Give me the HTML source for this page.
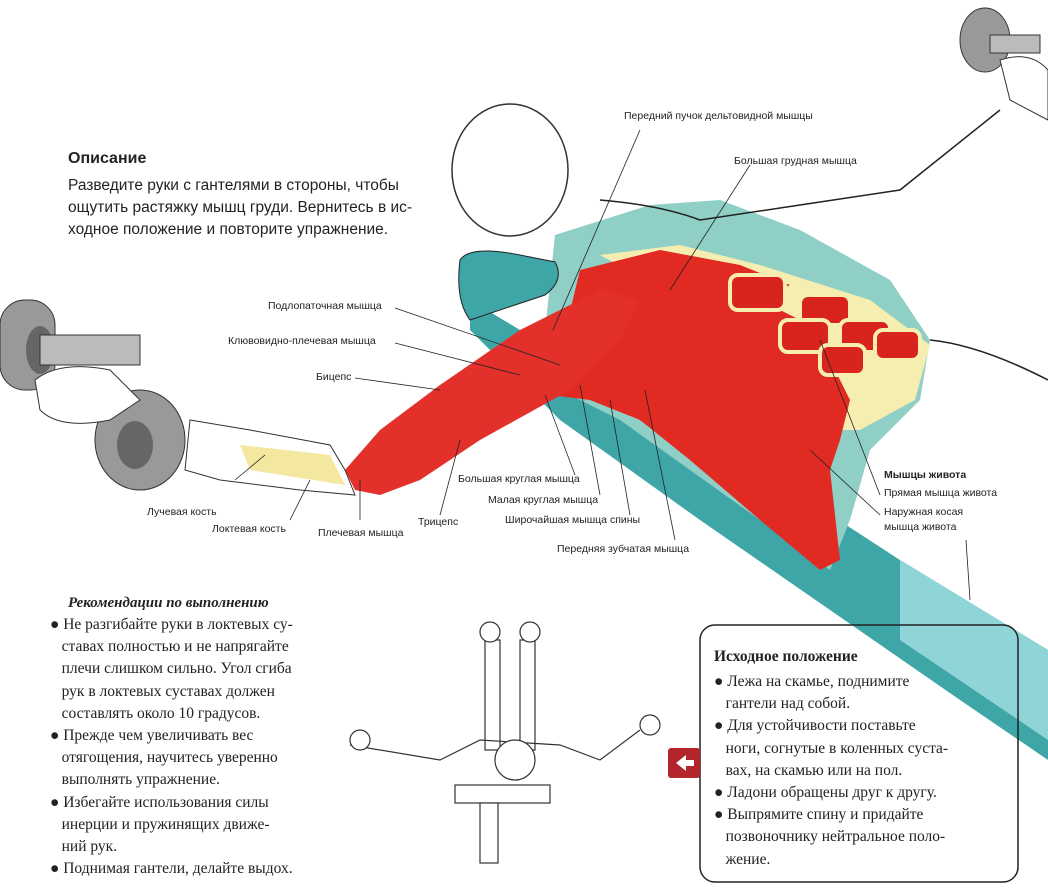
<!DOCTYPE html>
<html><head><meta charset="utf-8"><style>
body{margin:0;background:#fff;width:1048px;height:893px;overflow:hidden;position:relative;font-family:"Liberation Sans",sans-serif;}
.t{position:absolute;font-size:10.5px;color:#222;white-space:nowrap;}
.d{position:absolute;left:68px;font-size:15.5px;color:#222;line-height:22px;}
.s{position:absolute;font-family:"Liberation Serif",serif;font-size:15.5px;color:#222;line-height:22.2px;}
</style></head><body>
<svg width="1048" height="893" style="position:absolute;left:0;top:0">
<polygon points="470,300 520,330 700,430 900,560 1048,650 1048,760 960,700 700,520 560,420 470,330" fill="#3fa6a8"/>
<polygon points="555,235 650,205 720,200 800,230 890,280 930,340 920,400 870,450 850,520 830,570 760,520 620,420 540,380" fill="#8fcfc6"/>
<polygon points="900,560 1048,650 1048,740 900,640" fill="#8fd5d8"/>
<path d="M460,260 Q470,245 520,255 L555,262 Q565,280 545,295 L470,320 Q455,300 460,260Z" fill="#3fa6a8" stroke="#222"/>
<ellipse cx="510" cy="170" rx="58" ry="66" fill="#fff" stroke="#333" stroke-width="1.5"/>
<path d="M600,200 Q660,205 700,220 L800,205 L900,190 L1000,110" fill="none" stroke="#222" stroke-width="1.5"/>
<path d="M930,340 Q980,345 1048,380" fill="none" stroke="#222" stroke-width="1.5"/>
<polygon points="600,255 680,245 760,265 870,300 930,345 915,400 860,430 810,430 770,380 720,320" fill="#f6eeb0"/>
<polygon points="580,270 660,250 740,265 790,285 760,300 800,320 830,360 850,400 840,440 830,470 840,560 820,570 760,520 690,460 640,420 590,400 550,395" fill="#e02a22"/>
<g fill="#d8241c" stroke="#f6eeb0" stroke-width="4">
<rect x="730" y="275" width="55" height="35" rx="8"/><rect x="800" y="295" width="50" height="30" rx="8"/>
<rect x="780" y="320" width="50" height="32" rx="8"/><rect x="840" y="320" width="50" height="32" rx="8"/>
<rect x="820" y="345" width="45" height="30" rx="8"/><rect x="875" y="330" width="45" height="30" rx="8"/>
</g>
<polygon points="345,470 380,430 440,385 520,330 600,290 640,300 620,340 570,390 480,440 420,480 380,495 355,490" fill="#e3302a"/>
<polygon points="190,420 250,430 330,445 345,470 355,495 300,490 220,480 185,470" fill="#fff" stroke="#333"/>
<polygon points="240,445 330,455 345,485 250,470" fill="#f4e7a0"/>
<rect x="0" y="300" width="55" height="90" rx="25" fill="#999" stroke="#333"/>
<ellipse cx="40" cy="350" rx="14" ry="24" fill="#666"/>
<rect x="40" y="335" width="100" height="30" fill="#bbb" stroke="#333"/>
<ellipse cx="140" cy="440" rx="45" ry="50" fill="#999" stroke="#333"/>
<ellipse cx="135" cy="445" rx="18" ry="24" fill="#666"/>
<path d="M35,380 Q60,360 110,370 L140,400 L110,420 Q60,430 40,410Z" fill="#fff" stroke="#333"/>
<ellipse cx="985" cy="40" rx="25" ry="32" fill="#999" stroke="#333"/>
<rect x="990" y="35" width="50" height="18" fill="#bbb" stroke="#333"/>
<path d="M1000,60 Q1030,50 1048,70 L1048,120 L1010,100Z" fill="#fff" stroke="#333"/>
<g stroke="#222" stroke-width="0.8">
<line x1="640" y1="130" x2="553" y2="330"/><line x1="750" y1="165" x2="670" y2="290"/>
<line x1="395" y1="308" x2="560" y2="365"/><line x1="395" y1="343" x2="520" y2="375"/>
<line x1="355" y1="378" x2="440" y2="390"/><line x1="235" y1="480" x2="265" y2="455"/>
<line x1="290" y1="520" x2="310" y2="480"/><line x1="360" y1="520" x2="360" y2="480"/>
<line x1="440" y1="515" x2="460" y2="440"/><line x1="575" y1="475" x2="545" y2="395"/>
<line x1="600" y1="495" x2="580" y2="385"/><line x1="630" y1="515" x2="610" y2="400"/>
<line x1="675" y1="540" x2="645" y2="390"/><line x1="880" y1="495" x2="820" y2="340"/>
<line x1="880" y1="515" x2="810" y2="450"/>
<line x1="966" y1="540" x2="970" y2="600"/>
</g>
<g stroke="#333" fill="#fff" stroke-width="1.2">
<rect x="485" y="640" width="15" height="110"/><rect x="520" y="640" width="15" height="110"/>
<circle cx="490" cy="632" r="10"/><circle cx="530" cy="632" r="10"/>
<path d="M350,745 L440,760 L480,740 L560,745 L600,760 L640,730" fill="none"/>
<circle cx="360" cy="740" r="10"/><circle cx="650" cy="725" r="10"/>
<rect x="455" y="785" width="95" height="18"/><rect x="480" y="803" width="18" height="60"/>
<circle cx="515" cy="760" r="20"/>
</g>
<rect x="700" y="625" width="318" height="257" rx="15" fill="none" stroke="#222" stroke-width="1.5"/>
<rect x="668" y="748" width="32" height="30" rx="3" fill="#b3242b"/>
<polygon points="676,763 686,755 686,760 694,760 694,766 686,766 686,771" fill="#fff"/>
</svg>
<div style="position:absolute;left:68px;top:150px;font-size:16px;font-weight:bold;color:#222">Описание</div>
<div class="d" style="top:175px">Разведите руки с гантелями в стороны, чтобы<br>ощутить растяжку мышц груди. Вернитесь в ис-<br>ходное положение и повторите упражнение.</div>
<div class="t" style="left:624px;top:110px">Передний пучок дельтовидной мышцы</div>
<div class="t" style="left:734px;top:155px">Большая грудная мышца</div>
<div class="t" style="left:268px;top:300px">Подлопаточная мышца</div>
<div class="t" style="left:228px;top:335px">Клювовидно-плечевая мышца</div>
<div class="t" style="left:316px;top:371px">Бицепс</div>
<div class="t" style="left:147px;top:506px">Лучевая кость</div>
<div class="t" style="left:212px;top:523px">Локтевая кость</div>
<div class="t" style="left:318px;top:527px">Плечевая мышца</div>
<div class="t" style="left:418px;top:516px">Трицепс</div>
<div class="t" style="left:458px;top:473px">Большая круглая мышца</div>
<div class="t" style="left:488px;top:494px">Малая круглая мышца</div>
<div class="t" style="left:505px;top:514px">Широчайшая мышца спины</div>
<div class="t" style="left:557px;top:543px">Передняя зубчатая мышца</div>
<div class="t" style="left:884px;top:469px;font-weight:bold">Мышцы живота</div>
<div class="t" style="left:884px;top:487px">Прямая мышца живота</div>
<div class="t" style="left:884px;top:505px;line-height:15px">Наружная косая<br>мышца живота</div>
<div style="position:absolute;left:68px;top:595px;font-family:'Liberation Serif',serif;font-size:15px;font-weight:bold;font-style:italic;color:#222">Рекомендации по выполнению</div>
<div class="s" style="left:50px;top:614px">● Не разгибайте руки в локтевых су-<br>&nbsp;&nbsp;&nbsp;ставах полностью и не напрягайте<br>&nbsp;&nbsp;&nbsp;плечи слишком сильно. Угол сгиба<br>&nbsp;&nbsp;&nbsp;рук в локтевых суставах должен<br>&nbsp;&nbsp;&nbsp;составлять около 10 градусов.<br>● Прежде чем увеличивать вес<br>&nbsp;&nbsp;&nbsp;отягощения, научитесь уверенно<br>&nbsp;&nbsp;&nbsp;выполнять упражнение.<br>● Избегайте использования силы<br>&nbsp;&nbsp;&nbsp;инерции и пружинящих движе-<br>&nbsp;&nbsp;&nbsp;ний рук.<br>● Поднимая гантели, делайте выдох.</div>
<div style="position:absolute;left:714px;top:648px;font-family:'Liberation Serif',serif;font-size:15.5px;font-weight:bold;color:#222">Исходное положение</div>
<div class="s" style="left:714px;top:671px">● Лежа на скамье, поднимите<br>&nbsp;&nbsp;&nbsp;гантели над собой.<br>● Для устойчивости поставьте<br>&nbsp;&nbsp;&nbsp;ноги, согнутые в коленных суста-<br>&nbsp;&nbsp;&nbsp;вах, на скамью или на пол.<br>● Ладони обращены друг к другу.<br>● Выпрямите спину и придайте<br>&nbsp;&nbsp;&nbsp;позвоночнику нейтральное поло-<br>&nbsp;&nbsp;&nbsp;жение.</div>
</body></html>
